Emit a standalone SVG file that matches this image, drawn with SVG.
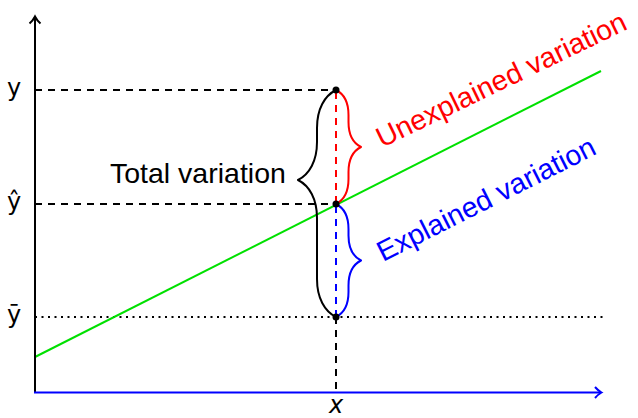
<svg xmlns="http://www.w3.org/2000/svg" width="638" height="418" viewBox="0 0 638 418">
<style>
.ax{fill:none;stroke:#000;stroke-width:2}
.dash{fill:none;stroke:#000;stroke-width:2;stroke-dasharray:7 6}
.dot{fill:none;stroke:#000;stroke-width:2;stroke-dasharray:2 4.5}
.brace{fill:none;stroke-width:2;stroke-linejoin:round}
.lbl{font-family:"DejaVu Sans",sans-serif;font-size:24px;fill:#000;text-anchor:middle}
.big{font-family:"Liberation Sans",Arial,sans-serif;font-size:28.5px}
</style>
<rect width="638" height="418" fill="#fff"/>
<g id="connectors">
  <path class="dash" d="M35,90 H336"/>
  <path class="dash" d="M35,204 H336"/>
  <path class="dot" d="M35,317 H606"/>
  <path class="dash" d="M336,317 V392"/>
  <path fill="none" stroke="#ff0000" stroke-width="2" stroke-dasharray="7 6" d="M336,92 V204"/>
  <path fill="none" stroke="#0000ff" stroke-width="2" stroke-dasharray="7 6" d="M336,206 V317"/>
  <path id="regression" fill="none" stroke="#00e000" stroke-width="2" d="M35,357 L601,71"/>
</g>
<g id="axes">
  <path class="ax" d="M35,393 V17"/>
  <path class="ax" d="M29.5,23.5 Q33,20.5 35,16.5 Q37,20.5 40.5,23.5"/>
  <path fill="none" stroke="#0000ff" stroke-width="2" d="M34,392.5 H601"/>
  <path fill="none" stroke="#0000ff" stroke-width="2" d="M595,387 Q598,390.5 601.5,392.5 Q598,394.5 595,398"/>
</g>
<g id="brace-total">
  <path class="brace" stroke="#000" d="M336,90 C324.6,95.7 317,109 317,128 L317,142 C317,161 309.4,174.3 298,180 C309.4,185.7 317,199 317,218 L317,279 C317,298 324.6,311.3 336,317"/>
</g>
<g id="brace-unexplained">
  <path class="brace" stroke="#ff0000" d="M336,90 C343.5,93.75 348.5,102.5 348.5,115 L348.5,122 C348.5,134.5 353.5,143.25 361,147 C353.5,150.75 348.5,159.5 348.5,172 L348.5,179 C348.5,191.5 343.5,200.25 336,204"/>
</g>
<g id="brace-explained">
  <path class="brace" stroke="#0000ff" d="M336,204 C343.5,207.75 348.5,216.5 348.5,229 L348.5,235.5 C348.5,248 353.5,256.75 361,260.5 C353.5,264.25 348.5,273 348.5,285.5 L348.5,292 C348.5,304.5 343.5,313.25 336,317"/>
</g>
<g id="points">
  <circle cx="336" cy="90" r="3.5" fill="#000"/>
  <circle cx="336" cy="204" r="3.5" fill="#000"/>
  <circle cx="336" cy="317" r="3.5" fill="#000"/>
</g>
<g id="labels">
  <text class="lbl" x="14" y="96">y</text>
  <text class="lbl" x="14" y="210">ŷ</text>
  <text class="lbl" x="14" y="323">ȳ</text>
  <text class="lbl" x="336" y="413" font-size="21" font-family="DejaVu Serif" font-style="italic">x</text>
  <text id="total" class="big" x="110" y="183" fill="#000">Total variation</text>
  <text id="unexplained" class="big" x="382" y="148" fill="#ff0000" transform="rotate(-25.8 382 148)">Unexplained variation</text>
  <text id="explained" class="big" x="383" y="262" fill="#0000ff" transform="rotate(-26.8 383 262)">Explained variation</text>
</g>
</svg>
